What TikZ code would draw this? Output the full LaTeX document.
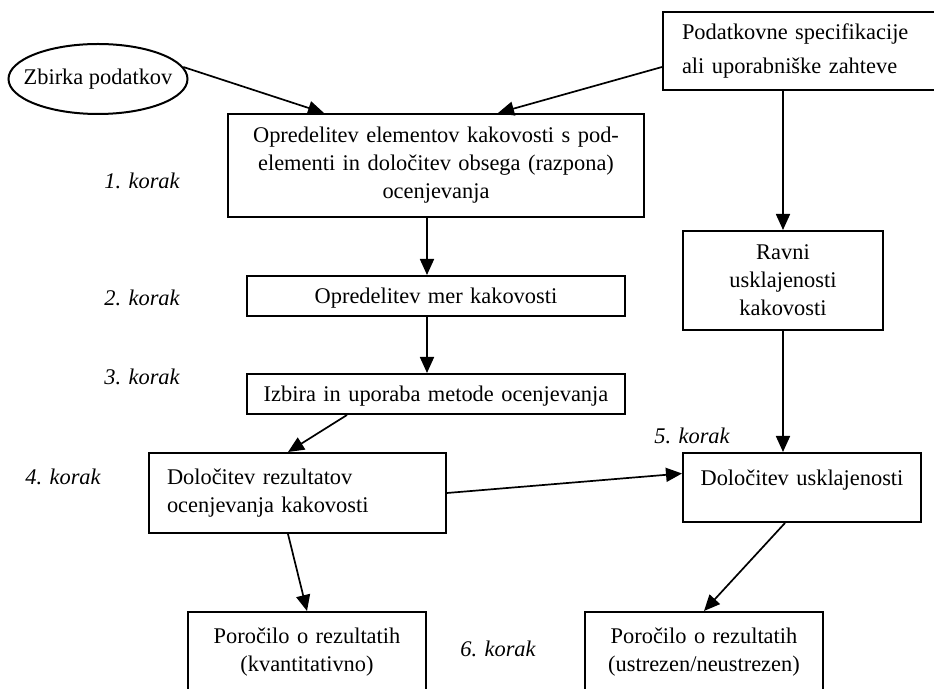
\documentclass[tikz,border=0pt]{standalone}
\usepackage{fontspec}
\setmainfont{Liberation Serif}
\usetikzlibrary{shapes.geometric,arrows.meta}

\tikzset{
  box/.style={draw, line width=1pt, inner xsep=4pt, inner ysep=2pt, align=center},
  leftbox/.style={box, inner xsep=9pt, align=left},
  flow/.style={-{Triangle[length=8pt,width=7pt]}, line width=0.85pt},
  korak/.style={font=\fontsize{11.2}{14}\selectfont\itshape}
}

\begin{document}
\begin{tikzpicture}[x=0.5pt, y=-0.5pt, font=\fontsize{11.2}{14}\selectfont]
    \useasboundingbox (0,0) rectangle (934,689);

    % Inputs
    \node[draw, ellipse, line width=1pt, minimum width=89.5pt, minimum height=35pt, inner xsep=-6pt, inner ysep=0pt] (data) at (98,79) {Zbirka podatkov};
    \node[leftbox, inner xsep=9.5pt, text width=122pt, minimum height=39pt, font=\fontsize{11.2}{17}\selectfont] (spec) at (804,51) {Podatkovne specifikacije\\ali uporabniške zahteve};

    % Steps
    \node[box, text width=200pt, minimum height=51.5pt] (elem) at (436,165.5) {Opredelitev elementov kakovosti s pod-\\elementi in določitev obsega (razpona)\\ocenjevanja};
    \node[box, text width=181pt, minimum height=20pt, text depth=0pt] (mere) at (436,296) {Opredelitev mer kakovosti};
    \node[box, text width=181pt, minimum height=20pt, text depth=0pt] (metoda) at (436,394) {Izbira in uporaba metode ocenjevanja};
    \node[leftbox, text width=130.5pt, minimum height=40pt] (rezultati) at (297.5,493) {Določitev rezultatov\\ocenjevanja kakovosti};
    \node[box, text width=92pt, minimum height=49.5pt] (ravni) at (783,280.5) {Ravni\\usklajenosti\\kakovosti};
    \node[box, text width=111pt, minimum height=34.5pt, text depth=10pt] (uskl) at (802,487.5) {Določitev usklajenosti};

    % Reports
    \node[box, text width=111pt, minimum height=40pt] (kvant) at (307,652) {Poročilo o rezultatih\\(kvantitativno)};
    \node[box, text width=111pt, minimum height=40pt] (ustr) at (704,652) {Poročilo o rezultatih\\(ustrezen/neustrezen)};

    % Step labels
    \node[korak] (k1) at (142,181) {1. korak};
    \node[korak] (k2) at (142,298) {2. korak};
    \node[korak] (k3) at (142,377) {3. korak};
    \node[korak] (k4) at (63,477) {4. korak};
    \node[korak] (k5) at (692,436) {5. korak};
    \node[korak] (k6) at (498,649) {6. korak};

    % Connectors
    \draw[flow] (data.8) -- ([xshift=48.5pt]elem.north west);
    \draw[flow] ([yshift=-8pt]spec.west) -- ([xshift=31pt]elem.north);
    \draw[flow] (ravni.north |- spec.south) -- (ravni.north);
    \draw[flow] ([xshift=-4.5pt]elem.south) -- ([xshift=-4.5pt]mere.north);
    \draw[flow] ([xshift=-4.5pt]mere.south) -- ([xshift=-4.5pt]metoda.north);
    \draw[flow] ([xshift=-44.5pt]metoda.south) -- ([xshift=-4.75pt]rezultati.north);
    \draw[flow] (rezultati.east) -- ([yshift=7pt]uskl.west);
    \draw[flow] (ravni.south) -- (ravni.south |- uskl.north);
    \draw[flow] ([xshift=-4.75pt]rezultati.south) -- (kvant.north);
    \draw[flow] ([xshift=-8.5pt]uskl.south) -- (ustr.north);
\end{tikzpicture}
\end{document}
